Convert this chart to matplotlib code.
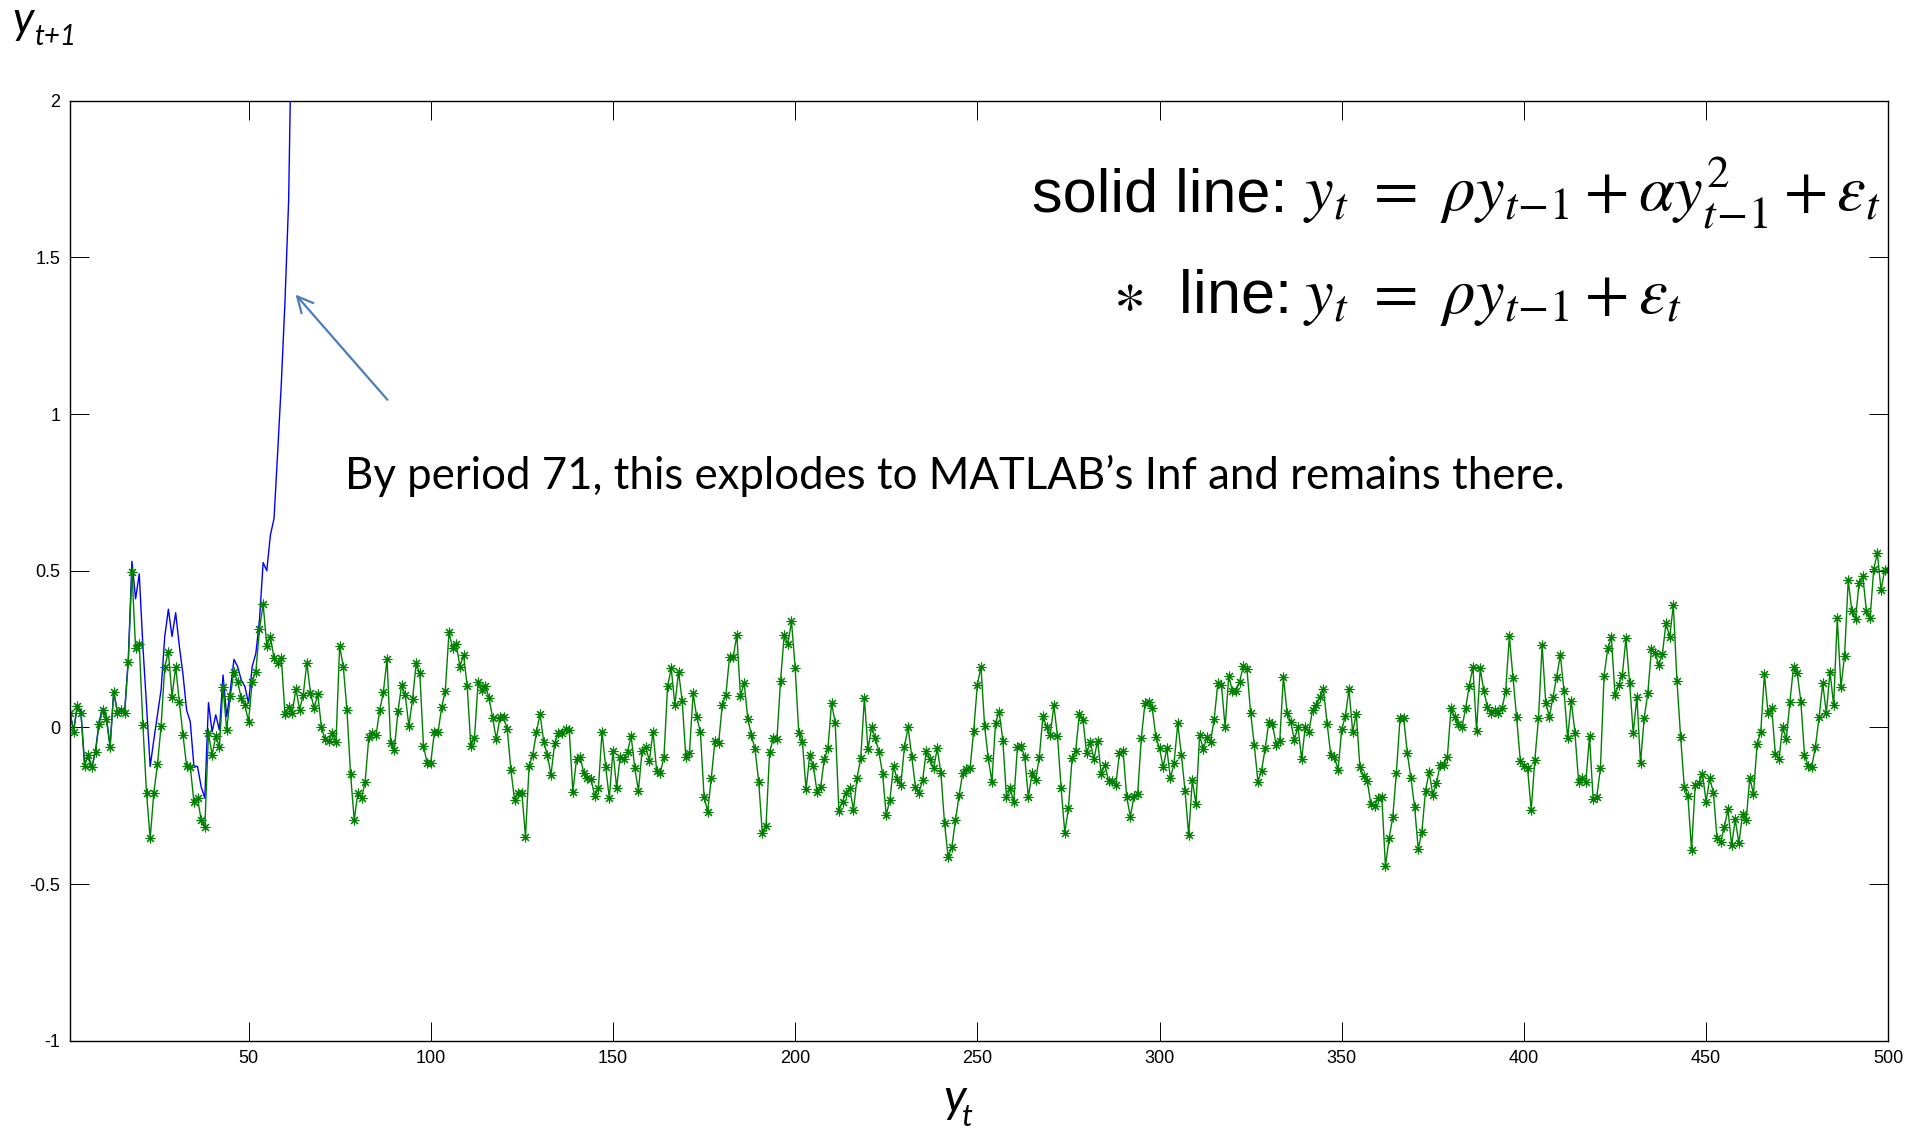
import numpy as np
import matplotlib.pyplot as plt

# AR(1) path: y_t = rho*y_{t-1} + eps_t (green, asterisk markers), t = 1..500
ar_path = [
    0.047, -0.014, 0.068, 0.045, -0.123, -0.088, -0.125, -0.078, 0.011, 0.055,
    0.026, -0.062, 0.113, 0.047, 0.055, 0.047, 0.21, 0.497, 0.252, 0.266,
    0.008, -0.21, -0.354, -0.21, -0.118, 0.004, 0.194, 0.241, 0.098, 0.194,
    0.082, -0.024, -0.123, -0.125, -0.237, -0.226, -0.296, -0.319, -0.019, -0.088,
    -0.028, -0.062, 0.13, -0.009, 0.1, 0.178, 0.146, 0.093, 0.071, 0.018,
    0.146, 0.178, 0.313, 0.394, 0.26, 0.289, 0.22, 0.204, 0.22, 0.043,
    0.064, 0.047, 0.124, 0.057, 0.103, 0.206, 0.11, 0.061, 0.106, 0.0,
    -0.038, -0.043, -0.019, -0.046, 0.26, 0.194, 0.055, -0.149, -0.296, -0.209,
    -0.226, -0.173, -0.032, -0.019, -0.024, 0.055, 0.113, 0.217, -0.049, -0.072,
    0.051, 0.135, 0.103, 0.004, 0.089, 0.204, 0.172, -0.058, -0.113, -0.113,
    -0.015, -0.015, 0.064, 0.117, 0.304, 0.252, 0.266, 0.194, 0.231, 0.132,
    -0.059, -0.035, 0.145, 0.119, 0.132, 0.093, 0.029, -0.038, 0.032, 0.032,
    -0.006, -0.136, -0.232, -0.21, -0.208, -0.349, -0.123, -0.088, -0.015, 0.043,
    -0.046, -0.088, -0.152, -0.051, -0.019, -0.019, -0.006, -0.008, -0.205, -0.102,
    -0.095, -0.145, -0.163, -0.166, -0.219, -0.195, -0.014, -0.125, -0.226, -0.074,
    -0.192, -0.095, -0.102, -0.078, -0.028, -0.131, -0.202, -0.074, -0.064, -0.106,
    -0.014, -0.138, -0.145, -0.095, 0.132, 0.188, 0.071, 0.178, 0.085, -0.095,
    -0.081, 0.109, 0.032, -0.014, -0.221, -0.269, -0.16, -0.043, -0.051, 0.071,
    0.103, 0.226, 0.224, 0.295, 0.1, 0.143, 0.028, -0.025, -0.07, -0.174,
    -0.338, -0.315, -0.079, -0.035, -0.038, 0.149, 0.295, 0.266, 0.338, 0.191,
    -0.017, -0.046, -0.198, -0.089, -0.123, -0.205, -0.191, -0.102, -0.067, 0.077,
    0.015, -0.266, -0.237, -0.208, -0.195, -0.264, -0.16, -0.099, 0.093, -0.07,
    0.0, -0.035, -0.078, -0.149, -0.28, -0.232, -0.123, -0.166, -0.184, -0.062,
    0.0, -0.093, -0.189, -0.208, -0.168, -0.074, -0.102, -0.131, -0.067, -0.145,
    -0.306, -0.415, -0.383, -0.296, -0.217, -0.145, -0.134, -0.131, -0.011, 0.135,
    0.194, 0.004, -0.099, -0.173, 0.015, 0.05, -0.042, -0.223, -0.195, -0.237,
    -0.062, -0.06, -0.093, -0.223, -0.147, -0.168, -0.096, 0.036, 0.002, -0.025,
    0.071, -0.028, -0.195, -0.336, -0.258, -0.099, -0.074, 0.043, 0.023, -0.083,
    -0.046, -0.102, -0.042, -0.149, -0.12, -0.17, -0.17, -0.184, -0.083, -0.074,
    -0.223, -0.285, -0.219, -0.213, -0.035, 0.077, 0.082, 0.061, -0.03, -0.067,
    -0.128, -0.067, -0.163, -0.113, 0.013, -0.088, -0.202, -0.344, -0.168, -0.245,
    -0.025, -0.07, -0.03, -0.046, 0.026, 0.141, 0.135, 0.0, 0.164, 0.117,
    0.117, 0.146, 0.196, 0.185, 0.047, -0.056, -0.173, -0.138, -0.067, 0.018,
    0.011, -0.056, -0.042, 0.162, 0.047, 0.018, -0.04, 0.002, -0.102, 0.002,
    -0.014, 0.057, 0.071, 0.096, 0.121, 0.011, -0.088, -0.095, -0.136, -0.006,
    0.036, 0.121, -0.014, 0.043, -0.128, -0.155, -0.17, -0.245, -0.251, -0.227,
    -0.223, -0.443, -0.354, -0.287, -0.145, 0.029, 0.029, -0.081, -0.163, -0.253,
    -0.389, -0.333, -0.202, -0.141, -0.216, -0.178, -0.12, -0.12, -0.093, 0.061,
    0.034, 0.011, 0.0, 0.061, 0.132, 0.194, -0.011, 0.188, 0.117, 0.064,
    0.047, 0.055, 0.047, 0.061, 0.117, 0.291, 0.159, 0.032, -0.106, -0.123,
    -0.131, -0.264, -0.104, 0.029, 0.263, 0.077, 0.034, 0.098, 0.162, 0.231,
    0.117, -0.035, 0.085, -0.017, -0.173, -0.163, -0.173, -0.028, -0.23, -0.221,
    -0.131, 0.164, 0.252, 0.287, 0.103, 0.135, 0.167, 0.284, 0.143, -0.019,
    0.098, -0.115, 0.029, 0.109, 0.249, 0.238, 0.199, 0.234, 0.334, 0.287,
    0.391, 0.149, -0.03, -0.189, -0.219, -0.391, -0.184, -0.178, -0.149, -0.237,
    -0.163, -0.208, -0.354, -0.365, -0.317, -0.262, -0.376, -0.294, -0.37, -0.277,
    -0.296, -0.16, -0.213, -0.053, -0.014, 0.17, 0.045, 0.061, -0.085, -0.102,
    0.002, -0.038, 0.082, 0.194, 0.175, 0.082, -0.088, -0.123, -0.125, -0.062,
    0.032, 0.141, 0.045, 0.178, 0.071, 0.348, 0.128, 0.228, 0.47, 0.37,
    0.345, 0.462, 0.483, 0.37, 0.348, 0.504, 0.557, 0.438, 0.502, 0.502,
]

# Quadratic path: y_t = rho*y_{t-1} + alpha*y_{t-1}^2 + eps_t (blue), visible part only
quad_path = [
    0.047, -0.01, 0.07, 0.05, -0.115, -0.095, -0.13, -0.075, 0.02, 0.06,
    0.03, -0.06, 0.115, 0.05, 0.06, 0.05, 0.22, 0.53, 0.41, 0.49,
    0.26, 0.07, -0.125, -0.04, 0.04, 0.12, 0.29, 0.377, 0.29, 0.366,
    0.26, 0.17, 0.055, 0.018, -0.123, -0.125, -0.19, -0.226, 0.079, -0.014,
    0.04, -0.009, 0.167, 0.034, 0.119, 0.217, 0.194, 0.151, 0.13, 0.077,
    0.194, 0.236, 0.343, 0.526, 0.50, 0.614, 0.667, 0.88, 1.10, 1.36,
    1.68, 2.4,
]

x_ticks = [50, 100, 150, 200, 250, 300, 350, 400, 450, 500]
y_ticks = [-1, -0.5, 0, 0.5, 1, 1.5, 2]
y_ticklabels = ['-1', '-0.5', '0', '0.5', '1', '1.5', '2']

W, H = 1927, 1130


def px(x, y):
    # pixel position -> figure fraction
    return x / W, 1 - y / H


fig = plt.figure(figsize=(W / 100, H / 100), dpi=100)
ax = fig.add_axes([70 / W, 1 - 1040.7 / H, (1888.3 - 70) / W, (1040.7 - 100.7) / H])

t_ar = np.arange(1, len(ar_path) + 1)
t_quad = np.arange(1, len(quad_path) + 1)

ax.plot(t_quad, quad_path, color='blue', lw=1.0)
ax.plot(t_ar, ar_path, color='#008000', lw=1.0,
        marker=(8, 2, 0), ms=7, mew=0.8)

ax.set_xlim(1, 500)
ax.set_ylim(-1, 2)
ax.set_xticks(x_ticks)
ax.set_yticks(y_ticks)
ax.set_yticklabels(y_ticklabels)
ax.tick_params(direction='in', length=13.5, width=0.7, top=True, right=True,
               labelsize=13, pad=7)
for lab in ax.get_xticklabels() + ax.get_yticklabels():
    lab.set_family('Liberation Sans')
for sp in ax.spines.values():
    sp.set_linewidth(1.0)

# axis labels, drawn as italic sans text with a smaller subscript
fig.text(*px(12, 33), 'y', fontsize=32, fontstyle='italic', family='Lato', va='baseline')
fig.text(*px(35, 45), 't+1', fontsize=20, fontstyle='italic', family='Lato', va='baseline')
fig.text(*px(943, 1112), 'y', fontsize=34, fontstyle='italic', family='Lato', va='baseline')
fig.text(*px(962, 1126), 't', fontsize=22, fontstyle='italic', family='Lato', va='baseline')

# model equations
fig.text(*px(1288, 211), 'solid line:', fontsize=44, family='Liberation Sans',
         ha='right', va='baseline')
fig.text(*px(1303, 211), r'$y_t\ =\ \rho y_{t\!-\!1} + \alpha y_{t\!-\!1}^2 + \varepsilon_t$',
         fontsize=46.5, math_fontfamily='stix', ha='left', va='baseline')
fig.text(*px(1288, 313), r'$\ast$  line:', fontsize=44, family='Liberation Sans',
         math_fontfamily='stix', ha='right', va='baseline')
fig.text(*px(1303, 313), r'$y_t\ =\ \rho y_{t\!-\!1} + \varepsilon_t$',
         fontsize=46.5, math_fontfamily='stix', ha='left', va='baseline')

# note on the explosive path
fig.text(*px(345, 489), 'By period 71, this explodes to MATLAB\u2019s Inf and remains there.',
         fontsize=31.5, family='Lato', va='baseline')
ax.annotate('', xy=(62.4, 1.388), xytext=(88.6, 1.039),
            arrowprops=dict(arrowstyle='->', color='#4a7ebb', lw=1.6, mutation_scale=28))

fig.savefig('out.png', dpi=100)
